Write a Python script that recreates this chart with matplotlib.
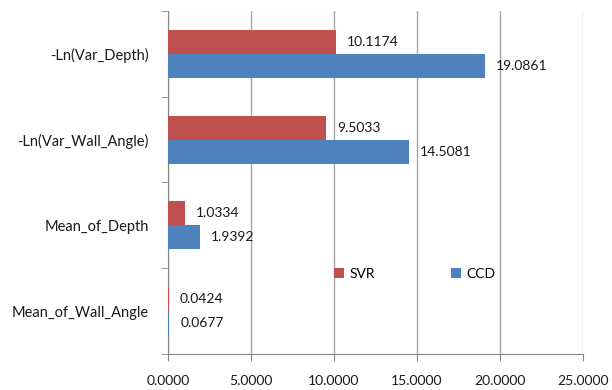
import matplotlib.pyplot as plt
import numpy as np

categories = ['-Ln(Var_Depth)', '-Ln(Var_Wall_Angle)', 'Mean_of_Depth', 'Mean_of_Wall_Angle']
svr = [10.1174, 9.5033, 1.0334, 0.0424]
ccd = [19.0861, 14.5081, 1.9392, 0.0677]

plt.rcParams['font.family'] = ['Lato', 'DejaVu Sans']

fig = plt.figure(figsize=(6.12, 3.9), dpi=100)
ax = fig.add_axes([0.2745, 0.0923, 0.678, 0.8797])

y = np.arange(len(categories))
h = 0.28
ax.barh(y - h / 2, svr, height=h, color='#C0504D', label='SVR', zorder=3)
ax.barh(y + h / 2, ccd, height=h, color='#4F81BD', label='CCD', zorder=3)

for yi, v in zip(y, svr):
    ax.annotate(f'{v:.4f}', (v, yi - h / 2), xytext=(8, 0), textcoords='offset points',
                va='center', ha='left', fontsize=10, color='#1a1a1a')
for yi, v in zip(y, ccd):
    ax.annotate(f'{v:.4f}', (v, yi + h / 2), xytext=(8, 0), textcoords='offset points',
                va='center', ha='left', fontsize=10, color='#1a1a1a')

ax.set_ylim(len(categories) - 0.5, -0.5)
ax.set_xlim(0, 25)
ax.set_xticks(np.arange(0, 26, 5))
ax.xaxis.set_major_formatter(lambda v, p: f'{v:.4f}')
ax.grid(axis='x', color='#A6A6A6', lw=1, zorder=0)

ax.set_yticks(y)
ax.set_yticklabels(categories, fontsize=10.5, color='#1a1a1a')
ax.tick_params(axis='y', length=0, pad=14)
ax.set_yticks(np.arange(-0.5, len(categories)), minor=True)
ax.tick_params(axis='y', which='minor', length=5, color='#868686')
ax.tick_params(axis='x', length=5, color='#868686', labelsize=10, pad=10, labelcolor='#1a1a1a')

for s in ['top', 'right']:
    ax.spines[s].set_visible(False)
for s in ['left', 'bottom']:
    ax.spines[s].set_color('#868686')

ax.legend(loc='lower left', bbox_to_anchor=(0.37, 0.18), ncol=2, frameon=False,
          handlelength=0.7, handleheight=0.7, handletextpad=0.4, columnspacing=5.5,
          fontsize=10)

fig.savefig('out.png', dpi=100)
